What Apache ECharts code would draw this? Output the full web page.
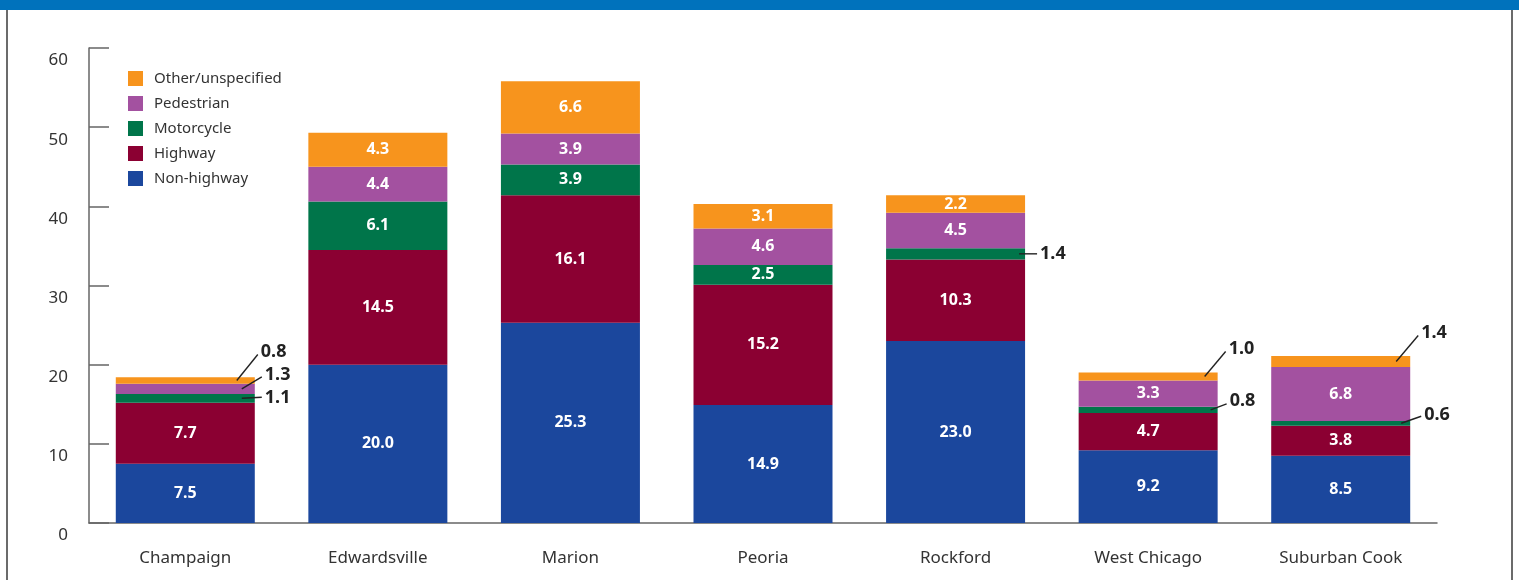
<!DOCTYPE html>
<html><head><meta charset="utf-8">
<script src="https://cdn.jsdelivr.net/npm/echarts@6/dist/echarts.min.js"></script>
<style>
html,body{margin:0;padding:0;background:#fff;}
#wrap{position:relative;width:1519px;height:580px;overflow:hidden;}
#topbar{position:absolute;left:0;top:0;width:1519px;height:10px;background:#0072BC;}
#lb{position:absolute;left:6px;top:10px;width:2px;height:570px;background:#6b6b6b;}
#rb{position:absolute;left:1511px;top:10px;width:2px;height:570px;background:#6b6b6b;}
#chart{position:absolute;left:0;top:0;width:1519px;height:580px;}
</style></head>
<body>
<div id="wrap"><div id="chart"></div><div id="topbar"></div><div id="lb"></div><div id="rb"></div></div>
<script>
const categories = ['Champaign','Edwardsville','Marion','Peoria','Rockford','West Chicago','Suburban Cook'];
const nonHighway = [7.5, 20.0, 25.3, 14.9, 23.0, 9.2, 8.5];
const highway    = [7.7, 14.5, 16.1, 15.2, 10.3, 4.7, 3.8];
const motorcycle = [1.1, 6.1, 3.9, 2.5, 1.4, 0.8, 0.6];
const pedestrian = [1.3, 4.4, 3.9, 4.6, 4.5, 3.3, 6.8];
const other      = [0.8, 4.3, 6.6, 3.1, 2.2, 1.0, 1.4];
const yTicks = [0, 10, 20, 30, 40, 50, 60];

const seriesDefs = [
  {name:'Non-highway', data:nonHighway, color:'#1B479D'},
  {name:'Highway', data:highway, color:'#8B0032'},
  {name:'Motorcycle', data:motorcycle, color:'#00754A'},
  {name:'Pedestrian', data:pedestrian, color:'#A351A0'},
  {name:'Other/unspecified', data:other, color:'#F7941D'}
];
// callout styling: which segment, line start (from bar right edge), line end and label offsets (px)
const calloutStyle = [
  {s:4, c:0, x0:-18, x1:3,  y1:-26, ly:-29},
  {s:3, c:0, x0:-13, x1:7,  y1:-12, ly:-14},
  {s:2, c:0, x0:-13, x1:7,  y1:-1,  ly:0},
  {s:2, c:4, x0:-6,  x1:12, y1:0,   ly:0},
  {s:4, c:5, x0:-13, x1:8,  y1:-25, ly:-28},
  {s:2, c:5, x0:-7,  x1:9,  y1:-6,  ly:-9},
  {s:4, c:6, x0:-14, x1:8,  y1:-26, ly:-29},
  {s:2, c:6, x0:-9,  x1:11, y1:-7,  ly:-8}
];
const calloutKeys = new Set(calloutStyle.map(o => o.s + '-' + o.c));
function midValue(s, c){
  let base = 0;
  for (let i = 0; i < s; i++) base += seriesDefs[i].data[c];
  return base + seriesDefs[s].data[c] / 2;
}
const FONT = 'Noto Sans';
const BAR_W = 139;
const chart = echarts.init(document.getElementById('chart'), null, {renderer:'canvas'});
const series = seriesDefs.map((s, si) => ({
  name: s.name, type:'bar', stack:'total', barWidth:BAR_W,
  itemStyle:{color:s.color},
  data: s.data.map((v, di) => calloutKeys.has(si + '-' + di) ? {value:v, label:{show:false}} : v),
  label:{show:true, position:'inside', color:'#fff', fontWeight:'bold', fontSize:16, fontFamily:FONT,
    formatter: p => p.value.toFixed(1)}
}));
series.push({
  type:'custom', name:'callouts', silent:true, z:10,
  data: calloutStyle.map(o => [o.c, midValue(o.s, o.c)]),
  renderItem: function(params, api){
    const o = calloutStyle[params.dataIndex];
    const p = api.coord([api.value(0), api.value(1)]);
    const rx = p[0] + BAR_W / 2;
    const txt = seriesDefs[o.s].data[o.c].toFixed(1);
    return {type:'group', children:[
      {type:'line', shape:{x1:rx + o.x0, y1:p[1], x2:rx + o.x1, y2:p[1] + o.y1},
        style:{stroke:'#222', lineWidth:1.4}},
      {type:'text', x:rx + o.x1 + 3, y:p[1] + o.ly,
        style:{text:txt, fill:'#222', font:'bold 18px "' + FONT + '"', textAlign:'left', textVerticalAlign:'middle'}}
    ]};
  }
});
chart.setOption({
  animation:false,
  textStyle:{fontFamily:FONT},
  grid:{left:89, right:82, top:48, bottom:57, containLabel:false},
  legend:{
    data:['Other/unspecified','Pedestrian','Motorcycle','Highway','Non-highway'],
    orient:'vertical', left:123, top:66, itemWidth:15, itemHeight:15, itemGap:10, icon:'rect',
    textStyle:{fontSize:15, color:'#333', fontFamily:FONT, padding:[0,0,0,6]}
  },
  xAxis:{type:'category', data:categories,
    axisLine:{lineStyle:{color:'#666', width:1.5}},
    axisTick:{inside:true, length:12, lineStyle:{color:'#666', width:1.5}},
    axisLabel:{fontSize:17, color:'#333', margin:27, fontFamily:FONT}
  },
  yAxis:{type:'value', min:yTicks[0], max:yTicks[yTicks.length-1], interval:10,
    axisLine:{show:true, lineStyle:{color:'#666', width:1.5}},
    axisTick:{show:true, inside:true, length:20, lineStyle:{color:'#666', width:1.5}},
    splitLine:{show:false},
    axisLabel:{fontSize:17, color:'#333', margin:21, verticalAlign:'top', padding:[4,0,0,0], fontFamily:FONT}
  },
  series: series
});
</script>
</body></html>
